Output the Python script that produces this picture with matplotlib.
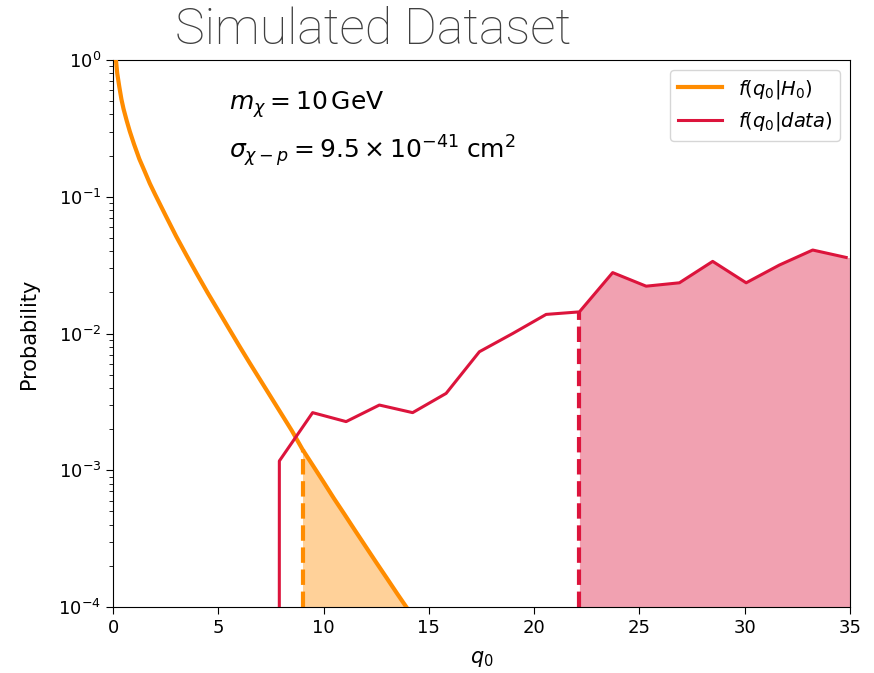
import matplotlib
matplotlib.use("Agg")
import matplotlib.pyplot as plt
import numpy as np

# f(q0|H0)
q_h0 = [0.14, 0.2, 0.3, 0.4, 0.5, 0.65, 0.8, 1.0, 1.25, 1.5, 1.75, 2.0, 2.5, 3.0, 3.5,
        4.0, 4.5, 5.0, 5.5, 6.0, 6.5, 7.0, 7.5, 8.0, 8.5, 9.0, 9.5, 10.0, 10.5, 11.0,
        11.5, 12.0, 12.5, 13.0, 13.5, 14.0]
p_h0 = [1.0, 0.80, 0.636, 0.516, 0.439, 0.360, 0.300, 0.242, 0.189, 0.154, 0.125,
        0.104, 0.0729, 0.0514, 0.0371, 0.0270, 0.0198, 0.0147, 0.0109, 0.0081,
        0.00606, 0.00456, 0.00343, 0.00258, 0.00194, 0.00142, 0.00108, 0.00082,
        0.00062, 0.000475, 0.000362, 0.000277, 0.000212, 0.000163, 0.000125, 0.0000965]

# f(q0|data)
q_data = [6.32, 7.9, 9.48, 11.07, 12.65, 14.23, 15.82, 17.4, 18.98, 20.57, 22.15,
          23.73, 25.32, 26.9, 28.48, 30.07, 31.65, 33.23, 34.82]
p_data = [0.0, 1.17e-3, 2.64e-3, 2.27e-3, 3.0e-3, 2.64e-3, 3.65e-3, 7.36e-3, 1.0e-2,
          1.38e-2, 1.44e-2, 2.79e-2, 2.22e-2, 2.35e-2, 3.37e-2, 2.35e-2, 3.17e-2,
          4.08e-2, 3.6e-2]

q_obs_h0 = 9.0
q_obs_data = 22.15

x_ticks = [0, 5, 10, 15, 20, 25, 30, 35]

fig = plt.figure(figsize=(8.74, 6.73), dpi=100)
ax = fig.add_axes([0.1293, 0.098, 0.8432, 0.8128])

orange = "darkorange"
red = "crimson"

qh = np.array(q_h0)
ph = np.array(p_h0)
qd = np.array(q_data)
pd_ = np.array(p_data)

ax.plot(qh, ph, color=orange, lw=3, label=r"$f(q_0|H_0)$", zorder=3)
ax.plot(qd, pd_, color=red, lw=2.2, label=r"$f(q_0|data)$", zorder=3)

# orange fill beyond q_obs
v9 = np.exp(np.interp(q_obs_h0, qh, np.log(ph)))
m = qh > q_obs_h0
fq = np.concatenate([[q_obs_h0], qh[m]])
fp = np.concatenate([[v9], ph[m]])
ax.fill_between(fq, 1e-4, fp, color=orange, alpha=0.4, lw=0, zorder=1)
ax.plot([q_obs_h0, q_obs_h0], [1e-4, v9], color=orange, lw=3, ls="--", zorder=2)

# red fill beyond q_obs_data
m2 = qd >= q_obs_data
vd = np.interp(q_obs_data, qd, pd_)
ax.fill_between(np.concatenate([qd[m2], [35]]),
                1e-4,
                np.concatenate([pd_[m2], [np.interp(35, qd[-2:], pd_[-2:])]]),
                color=red, alpha=0.4, lw=0, zorder=1)
ax.plot([q_obs_data, q_obs_data], [1e-4, vd], color=red, lw=3, ls="--", zorder=2)

ax.set_yscale("log")
ax.set_xlim(0, 35)
ax.set_ylim(1e-4, 1)
ax.set_xticks(x_ticks)
ax.tick_params(labelsize=13, length=5)
ax.tick_params(which="minor", length=3)
ax.set_xlabel(r"$q_0$", fontsize=15, labelpad=9)
ax.set_ylabel("Probability", fontsize=15, labelpad=14)

ax.text(5.5, 0.47, r"$m_\chi = 10\,\mathrm{GeV}$", fontsize=18, va="center")
ax.text(5.5, 0.215, r"$\sigma_{\chi-p} = 9.5\times10^{-41}\;\mathrm{cm}^2$", fontsize=18, va="center")

ax.legend(loc="upper right", fontsize=14, handlelength=2.3)

fig.text(0.427, 0.955, "Simulated Dataset", ha="center", va="center",
         fontsize=36, family="Roboto", weight="light", color="#404040")

fig.savefig("out.png", dpi=100)
